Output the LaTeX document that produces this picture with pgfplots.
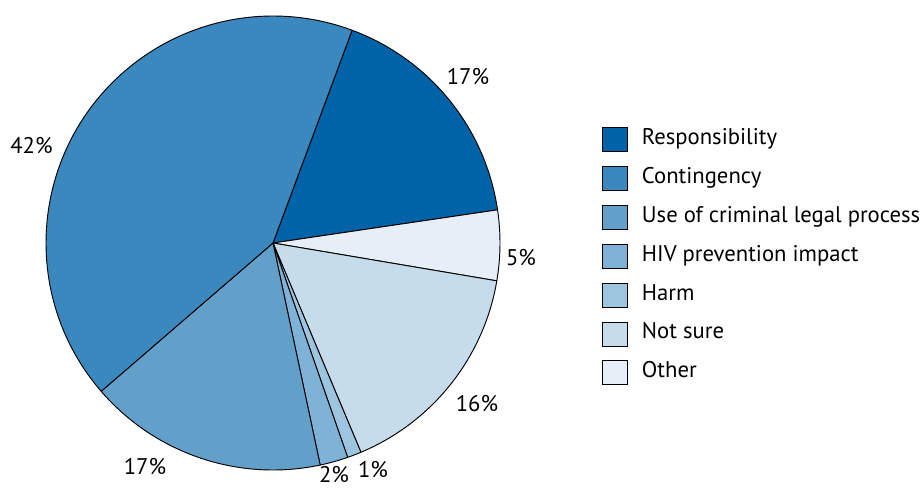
\documentclass[border=0pt]{standalone}
\usepackage{fontspec}
\setmainfont{PT Sans}
\usepackage{pgfplots}
\pgfplotsset{compat=1.18}

\definecolor{cResp}{HTML}{0063A7}
\definecolor{cCont}{HTML}{3A88BE}
\definecolor{cUse}{HTML}{62A0CA}
\definecolor{cHiv}{HTML}{7EB2D7}
\definecolor{cHarm}{HTML}{9EC5DF}
\definecolor{cNot}{HTML}{C6DCEB}
\definecolor{cOth}{HTML}{E6EFF7}

% slice: #1 = share before (percent), #2 = share (percent), #3 = colour
% clockwise from 69.6 degrees, centre (273,246), radius 227 (px units)
\newcommand{\pieslice}[3]{%
  \filldraw[fill=#3, draw=black, line width=0.7pt, line join=round]
    (axis cs:273,246) -- ++({69.6-3.6*#1}:170.25pt)
    arc[start angle={69.6-3.6*#1}, end angle={69.6-3.6*(#1+#2)}, radius=170.25pt]
    -- cycle;}

\begin{document}
\fontsize{17pt}{20pt}\selectfont
\begin{tikzpicture}
\path[use as bounding box] (0,0) rectangle (693pt,366.75pt);
\begin{axis}[
  at={(0,0)}, anchor=south west,
  scale only axis, disabledatascaling,
  x=0.75pt, y=0.75pt,
  xmin=0, xmax=924, ymin=0, ymax=489,
  hide axis, clip=false,
  legend cell align=left,
  legend image code/.code={%
    \draw[#1, draw=black, line width=0.5pt] (0pt,-9.25pt) rectangle (18.75pt,8.75pt);},
  legend style={
    draw=none, fill=none, inner sep=0pt,
    at={(axis cs:602,362)}, anchor=north west,
    font=\fontsize{17pt}{20pt}\selectfont,
    row sep=10.65pt, column sep=10.5pt,
    nodes={inner sep=0pt, outer sep=0pt, text height=12pt, text depth=4pt},
  },
]
% shares in percent, in clockwise order
\pieslice{0}{17}{cResp}   % Responsibility
\pieslice{17}{5}{cOth}    % Other
\pieslice{22}{16}{cNot}   % Not sure
\pieslice{38}{1}{cHarm}   % Harm
\pieslice{39}{2}{cHiv}    % HIV prevention impact
\pieslice{41}{17}{cUse}   % Use of criminal legal process
\pieslice{58}{42}{cCont}  % Contingency

\addlegendimage{fill=cResp}\addlegendentry{Responsibility}
\addlegendimage{fill=cCont}\addlegendentry{Contingency}
\addlegendimage{fill=cUse}\addlegendentry{Use of criminal legal process}
\addlegendimage{fill=cHiv}\addlegendentry{HIV prevention impact}
\addlegendimage{fill=cHarm}\addlegendentry{Harm}
\addlegendimage{fill=cNot}\addlegendentry{Not sure}
\addlegendimage{fill=cOth}\addlegendentry{Other}

\node at (axis cs:468,412.5) {17\%};
\node at (axis cs:521,231) {5\%};
\node at (axis cs:477,85) {16\%};
\node at (axis cs:373,19) {1\%};
\node at (axis cs:334,14) {2\%};
\node at (axis cs:145,22) {17\%};
\node at (axis cs:31.5,343) {42\%};
\end{axis}
\end{tikzpicture}
\end{document}
